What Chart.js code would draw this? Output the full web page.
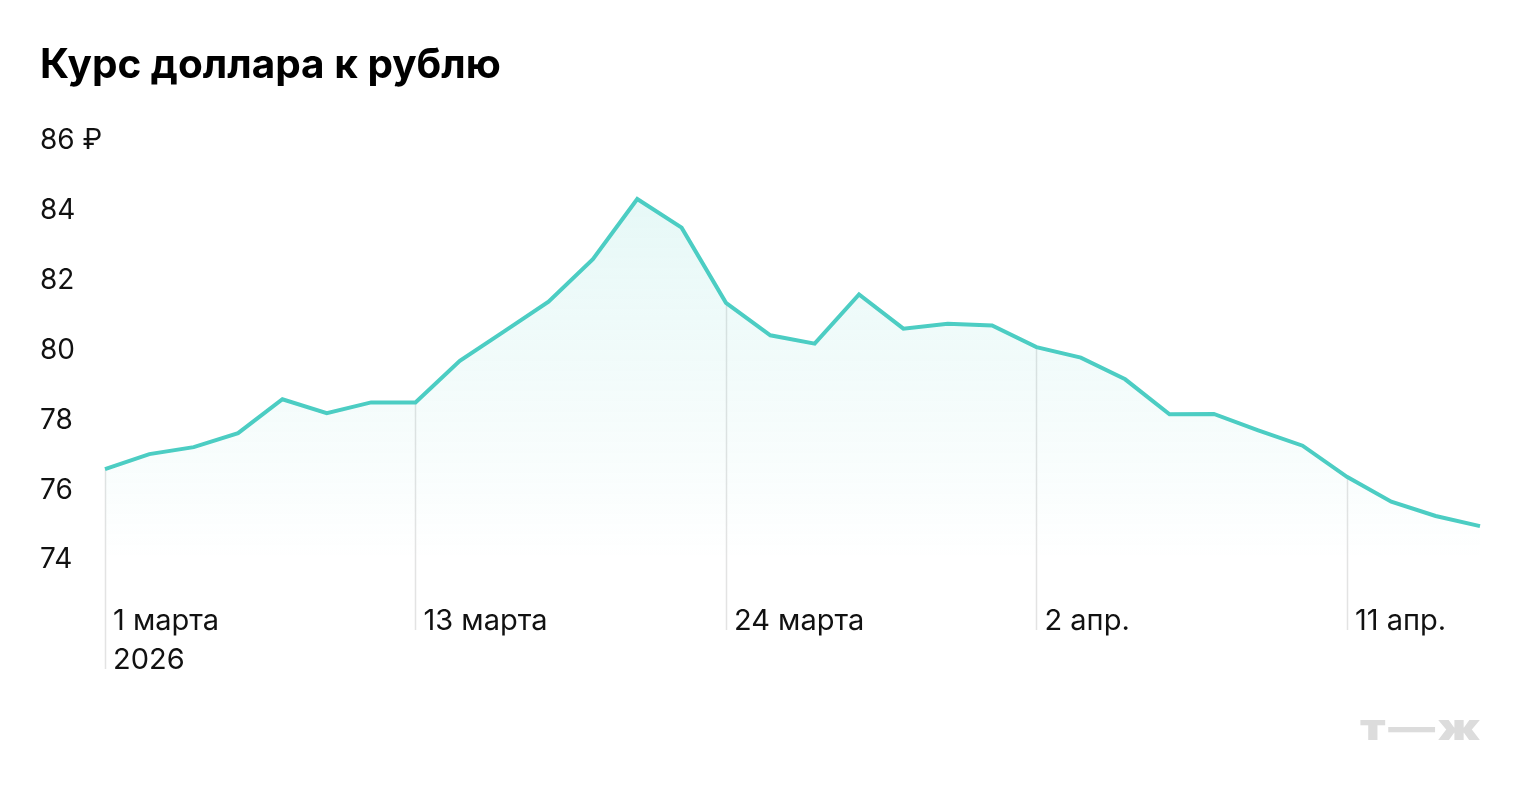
<!DOCTYPE html>
<html>
<head>
<meta charset="utf-8">
<script src="https://cdn.jsdelivr.net/npm/chart.js@4.4.1/dist/chart.umd.min.js"></script>
<style>
html,body{margin:0;padding:0;background:#fff;}
#wrap{position:relative;width:1520px;height:800px;}
</style>
</head>
<body>
<div id="wrap"><canvas id="c" width="1520" height="800"></canvas></div>
<script>
// ---- data ----
const categories = [
  '01.03','03.03','04.03','06.03','07.03','11.03','12.03','13.03',
  '14.03','17.03','18.03','19.03','20.03','21.03','24.03','25.03',
  '26.03','27.03','28.03','31.03','01.04','02.04','03.04','04.04',
  '07.04','08.04','09.04','10.04','11.04','14.04','15.04','16.04'
];
const usdRub = [
  76.60, 77.03, 77.23, 77.63, 78.60, 78.20, 78.51, 78.51,
  79.70, 80.54, 81.39, 82.61, 84.33, 83.51, 81.36, 80.43,
  80.19, 81.60, 80.62, 80.76, 80.71, 80.09, 79.79, 79.17,
  78.17, 78.18, 77.71, 77.27, 76.38, 75.67, 75.26, 74.97
];
const yTickValues = [74, 76, 78, 80, 82, 84, 86];
const xTickIndex = [0, 7, 14, 21, 28];
const xTickLabels = [['1 марта', '2026'], ['13 марта'], ['24 марта'], ['2 апр.'], ['11 апр.']];
const titleText = 'Курс доллара к рублю';
const logoText = 'т—ж';

const FONT = 'Inter, "Noto Sans", sans-serif';
const LINE = '#4ccdc3';

const xLabelsPlugin = {
  id: 'xLabels',
  beforeDatasetsDraw(chart) {
    const ctx = chart.ctx;
    const xs = chart.scales.x, ys = chart.scales.y;
    const base = chart.chartArea.bottom;
    ctx.save();
    ctx.strokeStyle = '#e3e3e3';
    ctx.lineWidth = 1.5;
    xTickIndex.forEach((idx, i) => {
      const x = Math.round(xs.getPixelForValue(idx)) + 0.5;
      const y0 = ys.getPixelForValue(usdRub[idx]);
      const lines = xTickLabels[i];
      const y1 = base + 70 + (lines.length - 1) * 39;
      ctx.beginPath();
      ctx.moveTo(x, y0);
      ctx.lineTo(x, y1);
      ctx.stroke();
    });
    ctx.restore();
  },
  afterDraw(chart) {
    const ctx = chart.ctx;
    const xs = chart.scales.x;
    const base = chart.chartArea.bottom;
    ctx.save();
    ctx.fillStyle = '#111';
    ctx.font = '29px ' + FONT;
    ctx.textAlign = 'left';
    ctx.textBaseline = 'alphabetic';
    xTickIndex.forEach((idx, i) => {
      const x = xs.getPixelForValue(idx);
      xTickLabels[i].forEach((t, j) => {
        ctx.fillText(t, x + 8, base + 70 + j * 39);
      });
    });
    ctx.restore();
    // logo
    ctx.save();
    ctx.fillStyle = '#dcdcdc';
    ctx.font = '900 36px ' + FONT;
    ctx.textAlign = 'left';
    ctx.letterSpacing = '2px';
    ctx.translate(chart.chartArea.right - 120, 740);
    ctx.scale(1.3, 1);
    ctx.fillText(logoText, 0, 0);
    ctx.restore();
  }
};

const ctx = document.getElementById('c').getContext('2d');
new Chart(ctx, {
  type: 'line',
  data: {
    labels: categories,
    datasets: [{
      data: usdRub,
      borderColor: LINE,
      borderWidth: 4,
      borderJoinStyle: 'miter',
      borderCapStyle: 'butt',
      pointRadius: 0,
      tension: 0,
      fill: 'start',
      backgroundColor: (c) => {
        const a = c.chart.chartArea;
        if (!a) return 'rgba(76,205,195,0.1)';
        const g = c.chart.ctx.createLinearGradient(0, a.top, 0, a.bottom);
        g.addColorStop(0, 'rgba(76,205,195,0.16)');
        g.addColorStop(1, 'rgba(76,205,195,0)');
        return g;
      }
    }]
  },
  options: {
    responsive: false,
    animation: false,
    devicePixelRatio: 1,
    layout: { padding: { left: 40, right: 40, top: 0, bottom: 240 } },
    plugins: {
      legend: { display: false },
      tooltip: { enabled: false },
      title: {
        display: true,
        text: titleText,
        align: 'start',
        color: '#000',
        font: { family: FONT, size: 40.5, weight: '700' },
        padding: { top: 42, bottom: 50 }
      }
    },
    scales: {
      x: {
        type: 'category',
        display: false,
        offset: false
      },
      y: {
        min: 74,
        max: 86,
        afterBuildTicks: (s) => { s.ticks = yTickValues.map(v => ({ value: v })); },
        afterFit: (s) => { s.width = 65; },
        grid: { display: false },
        border: { display: false },
        ticks: {
          color: '#111',
          font: { family: FONT, size: 28 },
          crossAlign: 'far',
          padding: 0,
          callback: (v) => v === 86 ? '86 ₽' : String(v)
        }
      }
    }
  },
  plugins: [xLabelsPlugin]
});
</script>
</body>
</html>
